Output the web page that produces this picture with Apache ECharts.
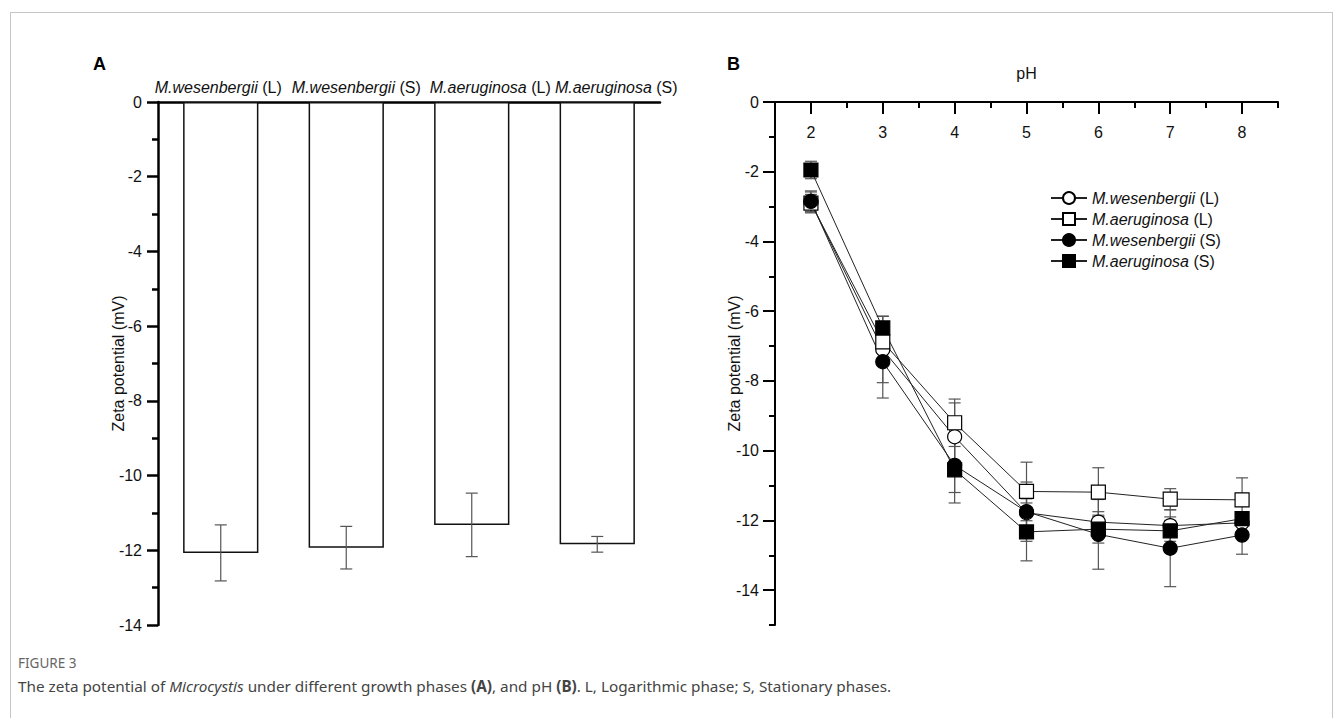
<!DOCTYPE html>
<html>
<head>
<meta charset="utf-8">
<title>Zeta potential of Microcystis</title>
<script src="https://cdn.jsdelivr.net/npm/echarts@6/dist/echarts.min.js"></script>
<style>
html, body { margin: 0; padding: 0; background: #fff; }
#frame { position: absolute; left: 10px; top: 12px; width: 1323px; height: 760px; border: 1px solid #c6c6c6; box-sizing: border-box; }
#chart { position: absolute; left: 0; top: 0; width: 1335px; height: 718px; }
.fig { position: absolute; left: 18px; top: 654px; font-family: 'Noto Sans'; font-size: 13.5px; color: #666; }
.cap { position: absolute; left: 18px; top: 676px; font-family: 'Noto Sans'; font-size: 15.3px; color: #444; white-space: nowrap; }
</style>
</head>
<body>
<div id="frame"></div>
<div id="chart"></div>
<div class="fig">FIGURE 3</div>
<div class="cap">The zeta potential of <i>Microcystis</i> under different growth phases <b>(A)</b>, and pH <b>(B)</b>. L, Logarithmic phase; S, Stationary phases.</div>
<script>
// panel A: growth phases
const categoriesA = ['M.wesenbergii (L)', 'M.wesenbergii (S)', 'M.aeruginosa (L)', 'M.aeruginosa (S)'];
const zetaA = [-12.07, -11.93, -11.32, -11.84];
const errA = [0.75, 0.57, 0.85, 0.21];

// panel B: pH
const pH = [2, 3, 4, 5, 6, 7, 8];
const wesL = [-2.88, -7.1, -9.6, -11.78, -12.05, -12.15, -12.07];
const aerL = [-2.9, -6.88, -9.2, -11.17, -11.19, -11.39, -11.41];
const wesS = [-2.85, -7.45, -10.42, -11.75, -12.4, -12.8, -12.42];
const aerS = [-1.95, -6.48, -10.55, -12.33, -12.25, -12.3, -11.95];
const wesLErr = [0.3, 0.95, 0.97, 0.4, 0.3, 0.25, 0.3];
const aerLErr = [0.25, 0.2, 0.68, 0.84, 0.7, 0.3, 0.63];
const wesSErr = [0.3, 1.04, 0.78, 0.85, 1.0, 1.1, 0.55];
const aerSErr = [0.25, 0.34, 0.95, 0.83, 0.4, 0.3, 0.2];

// tick labels
const pHTicks = [2, 3, 4, 5, 6, 7, 8];
const zetaTicksB = [0, -2, -4, -6, -8, -10, -12, -14];

const FONT = 'Liberation Sans';

const chart = echarts.init(document.getElementById('chart'), null, { renderer: 'svg' });

// error bar drawn with the axis scales
const errRender = (params, api) => {
    const x = api.value(0);
    const top = api.coord([x, api.value(2)]);
    const bot = api.coord([x, api.value(1)]);
    const w = 6;
    const style = { stroke: '#555', lineWidth: 1.2 };
    return {
        type: 'group',
        children: [
            { type: 'line', shape: { x1: top[0], y1: top[1], x2: bot[0], y2: bot[1] }, style },
            { type: 'line', shape: { x1: top[0] - w, y1: top[1], x2: top[0] + w, y2: top[1] }, style },
            { type: 'line', shape: { x1: bot[0] - w, y1: bot[1], x2: bot[0] + w, y2: bot[1] }, style }
        ]
    };
};

const errData = (xs, ys, es) => ys.map((v, i) => [xs[i], v - es[i], v + es[i]]);

const lineSeries = (name, data, symbol, filled) => ({
    name,
    type: 'line',
    xAxisIndex: 1,
    yAxisIndex: 1,
    data: pH.map((x, i) => [x, data[i]]),
    symbol,
    symbolSize: 14,
    z: 5,
    lineStyle: { color: '#222', width: 1 },
    itemStyle: { color: filled ? '#000' : '#fff', borderColor: '#000', borderWidth: 1.2, opacity: 1 },
    emphasis: { disabled: true }
});

const errSeries = (data, es) => ({
    type: 'custom',
    xAxisIndex: 1,
    yAxisIndex: 1,
    z: 3,
    renderItem: errRender,
    encode: { x: 0, y: [1, 2] },
    data: errData(pH, data, es),
    silent: true
});

const axisText = { fontFamily: FONT, fontSize: 16, color: '#111' };
const nameText = { fontFamily: FONT, fontSize: 16, color: '#111' };
const blackLine = (w) => ({ show: true, onZero: false, lineStyle: { color: '#000', width: w } });
const italicRich = { fontFamily: FONT, fontSize: 16, fontStyle: 'italic', color: '#111' };
const speciesLabel = (v) => {
    const parts = v.split(' ');
    return '{i|' + parts[0] + '} ' + parts[1];
};
// the labels in panel A sit a little right of their bars, spacer blocks push them over
const labelSpacer = [['', '{t0| }'], ['{l1| }', ''], ['{l2| }', ''], ['{l3| }', '']];

chart.setOption({
    animation: false,
    textStyle: { fontFamily: FONT },
    title: [
        { text: 'A', left: 88, top: 50, textStyle: { fontFamily: FONT, fontSize: 18, fontWeight: 'bold', color: '#000' } },
        { text: 'B', left: 722, top: 50, textStyle: { fontFamily: FONT, fontSize: 18, fontWeight: 'bold', color: '#000' } }
    ],
    grid: [
        { left: 158, top: 102, width: 502, height: 523, outerBoundsMode: 'none' },
        { left: 775, top: 102, width: 503, height: 523, outerBoundsMode: 'none' }
    ],
    legend: {
        data: ['M.wesenbergii (L)', 'M.aeruginosa (L)', 'M.wesenbergii (S)', 'M.aeruginosa (S)'],
        orient: 'vertical',
        left: 1045,
        top: 185,
        itemWidth: 36,
        itemHeight: 15,
        itemGap: 5,
        selectedMode: false,
        formatter: speciesLabel,
        textStyle: {
            fontFamily: FONT, fontSize: 16, color: '#111',
            rich: { i: italicRich }
        }
    },
    xAxis: [
        {
            gridIndex: 0,
            type: 'category',
            position: 'top',
            data: categoriesA,
            axisLine: blackLine(2.5),
            axisTick: { show: false },
            axisLabel: {
                interval: 0,
                margin: 7,
                ...axisText,
                formatter: (v, idx) => labelSpacer[idx][0] + speciesLabel(v) + labelSpacer[idx][1],
                rich: {
                    i: italicRich,
                    t0: { width: 5, fontSize: 16 },
                    l1: { width: 20, fontSize: 16 },
                    l2: { width: 37, fontSize: 16 },
                    l3: { width: 38, fontSize: 16 }
                }
            },
            splitLine: { show: false }
        },
        {
            gridIndex: 1,
            type: 'value',
            position: 'top',
            min: 1.5,
            max: 8.5,
            interval: 0.5,
            axisLine: blackLine(2),
            axisTick: { show: true, inside: true, length: 6, lineStyle: { color: '#000', width: 2 } },
            axisLabel: { show: false },
            splitLine: { show: false }
        },
        {
            gridIndex: 1,
            type: 'value',
            position: 'top',
            min: 1.5,
            max: 8.5,
            name: 'pH',
            nameLocation: 'middle',
            nameGap: 21,
            nameMoveOverlap: false,
            nameTextStyle: nameText,
            axisLine: { show: false, onZero: false },
            axisTick: { show: true, inside: true, length: 12, customValues: pHTicks, lineStyle: { color: '#000', width: 2 } },
            axisLabel: { show: true, inside: true, margin: 22, customValues: pHTicks, ...axisText },
            splitLine: { show: false }
        }
    ],
    yAxis: [
        {
            gridIndex: 0,
            type: 'value',
            position: 'left',
            min: -14,
            max: 0,
            interval: 2,
            name: 'Zeta potential (mV)',
            nameLocation: 'middle',
            nameGap: 32,
            nameMoveOverlap: false,
            nameTextStyle: nameText,
            axisLine: blackLine(2.5),
            axisTick: { show: true, length: 11, lineStyle: { color: '#000', width: 2.5 } },
            minorTick: { show: true, splitNumber: 2, length: 6, lineStyle: { color: '#000', width: 2.5 } },
            axisLabel: { margin: 16, ...axisText },
            splitLine: { show: false }
        },
        {
            gridIndex: 1,
            type: 'value',
            position: 'left',
            min: -15,
            max: 0,
            interval: 1,
            axisLine: blackLine(2),
            axisTick: { show: true, length: 6, lineStyle: { color: '#000', width: 2 } },
            axisLabel: { show: false },
            splitLine: { show: false }
        },
        {
            gridIndex: 1,
            type: 'value',
            position: 'left',
            offset: 0,
            min: -15,
            max: 0,
            name: 'Zeta potential (mV)',
            nameLocation: 'middle',
            nameGap: 33,
            nameMoveOverlap: false,
            nameTextStyle: nameText,
            axisLine: { show: false, onZero: false },
            axisTick: { show: true, length: 12, customValues: zetaTicksB, lineStyle: { color: '#000', width: 2 } },
            axisLabel: { margin: 16, customValues: zetaTicksB, ...axisText },
            splitLine: { show: false }
        }
    ],
    series: [
        {
            type: 'bar',
            xAxisIndex: 0,
            yAxisIndex: 0,
            data: zetaA,
            barWidth: '60%',
            itemStyle: { color: '#fff', borderColor: '#111', borderWidth: 1.5 },
            emphasis: { disabled: true }
        },
        {
            type: 'custom',
            xAxisIndex: 0,
            yAxisIndex: 0,
            z: 3,
            renderItem: errRender,
            encode: { x: 0, y: [1, 2] },
            data: errData(categoriesA.map((c, i) => i), zetaA, errA),
            silent: true
        },
        errSeries(wesL, wesLErr),
        errSeries(aerL, aerLErr),
        errSeries(wesS, wesSErr),
        errSeries(aerS, aerSErr),
        lineSeries('M.wesenbergii (L)', wesL, 'circle', false),
        lineSeries('M.aeruginosa (L)', aerL, 'rect', false),
        lineSeries('M.wesenbergii (S)', wesS, 'circle', true),
        lineSeries('M.aeruginosa (S)', aerS, 'rect', true)
    ]
});
</script>
</body>
</html>
